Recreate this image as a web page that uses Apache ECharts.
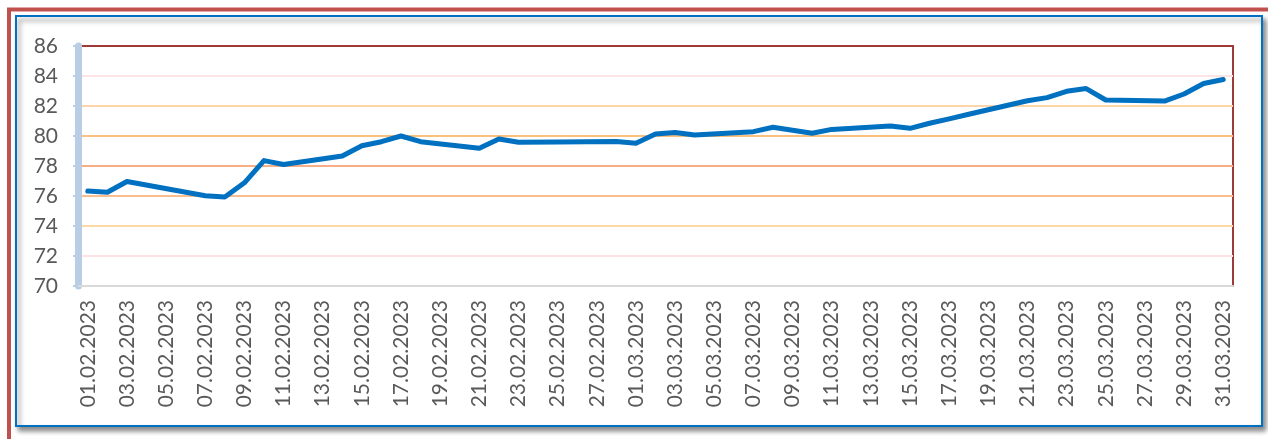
<!DOCTYPE html>
<html>
    <head>
        <meta charset="utf-8">
        <script src="https://cdn.jsdelivr.net/npm/echarts@6/dist/echarts.min.js"></script>
        <style>
            html, body {
                margin: 0;
                padding: 0;
                background: #fff;
            }
            #main {
                width: 1268px;
                height: 439px;
            }
        </style>
    </head>
    <body>
        <div id="main"></div>
        <script>
        // dates on the category axis
        var dates = [
            '01.02.2023', '02.02.2023', '03.02.2023', '04.02.2023', '05.02.2023', '06.02.2023', '07.02.2023',
            '08.02.2023', '09.02.2023', '10.02.2023', '11.02.2023', '12.02.2023', '13.02.2023', '14.02.2023',
            '15.02.2023', '16.02.2023', '17.02.2023', '18.02.2023', '19.02.2023', '20.02.2023', '21.02.2023',
            '22.02.2023', '23.02.2023', '24.02.2023', '25.02.2023', '26.02.2023', '27.02.2023', '28.02.2023',
            '01.03.2023', '02.03.2023', '03.03.2023', '04.03.2023', '05.03.2023', '06.03.2023', '07.03.2023',
            '08.03.2023', '09.03.2023', '10.03.2023', '11.03.2023', '12.03.2023', '13.03.2023', '14.03.2023',
            '15.03.2023', '16.03.2023', '17.03.2023', '18.03.2023', '19.03.2023', '20.03.2023', '21.03.2023',
            '22.03.2023', '23.03.2023', '24.03.2023', '25.03.2023', '26.03.2023', '27.03.2023', '28.03.2023',
            '29.03.2023', '30.03.2023', '31.03.2023'
        ];

        // rate per date, null where no value was published
        var rates = [
            76.33, 76.25, 76.97, null, null, null, 76.02,
            75.93, 76.88, 78.36, 78.10, null, null, 78.67,
            79.35, 79.62, 80.00, 79.62, null, null, 79.18,
            79.80, 79.58, null, 79.60, null, null, 79.63,
            79.51, 80.13, 80.24, 80.07, null, null, 80.29,
            80.58, null, 80.18, 80.44, null, null, 80.67,
            80.51, 80.85, 81.14, 81.45, null, null, 82.35,
            82.56, 82.98, 83.16, 82.40, null, null, 82.33,
            82.80, 83.50, 83.77
        ];

        var gridColors = ['#d9d9d9', '#fde2e6', '#fcd8a6', '#fabe8e', '#f9ae85',
                          '#fac17e', '#fcd6a8', '#fde4e4', '#9e3a38'];

        var chart = echarts.init(document.getElementById('main'));
        var font = 'Lato, "Liberation Sans", sans-serif';

        var option = {
            animation: false,
            backgroundColor: '#fff',
            graphic: [
                {
                    type: 'rect',
                    shape: { x: 9, y: 9.5, width: 1300, height: 500 },
                    style: { fill: null, stroke: '#c0504d', lineWidth: 4 },
                    z: 1
                },
                {
                    type: 'rect',
                    shape: { x: 16, y: 16, width: 1246, height: 410 },
                    style: {
                        fill: '#fff',
                        stroke: '#0070c0',
                        lineWidth: 2,
                        shadowBlur: 5,
                        shadowOffsetX: 3,
                        shadowOffsetY: 4,
                        shadowColor: 'rgba(0,0,0,0.45)'
                    },
                    z: -10
                }
            ],
            grid: {
                left: 78,
                right: 35,
                top: 46,
                bottom: 153,
                show: true,
                borderColor: '#9e3a38',
                borderWidth: 2,
                backgroundColor: 'transparent'
            },
            xAxis: {
                type: 'category',
                data: dates,
                boundaryGap: true,
                axisLine: { lineStyle: { color: '#d9d9d9', width: 2 } },
                axisTick: {
                    interval: 1,
                    length: 7,
                    lineStyle: { color: '#d9d9d9', width: 2 }
                },
                axisLabel: {
                    interval: 1,
                    rotate: 90,
                    margin: 14,
                    fontSize: 21,
                    fontFamily: font,
                    color: '#595959'
                }
            },
            yAxis: {
                type: 'value',
                min: 70,
                max: 86,
                interval: 2,
                axisLine: { show: true, lineStyle: { color: '#b9cde5', width: 7 } },
                axisTick: {
                    show: true,
                    length: 5,
                    lineStyle: { color: '#b9cde5', width: 2 }
                },
                axisLabel: {
                    margin: 20,
                    fontSize: 21,
                    fontFamily: font,
                    color: '#595959'
                },
                splitLine: {
                    show: true,
                    lineStyle: { color: gridColors, width: 2 }
                }
            },
            series: [
                {
                    type: 'line',
                    data: rates,
                    connectNulls: true,
                    showSymbol: false,
                    symbol: 'none',
                    lineStyle: { color: '#0070c0', width: 5, join: 'round', cap: 'round' },
                    itemStyle: { color: '#0070c0' },
                    z: 5
                }
            ]
        };
        chart.setOption(option);

        window.onresize = chart.resize;
        </script>
    </body>
</html>
